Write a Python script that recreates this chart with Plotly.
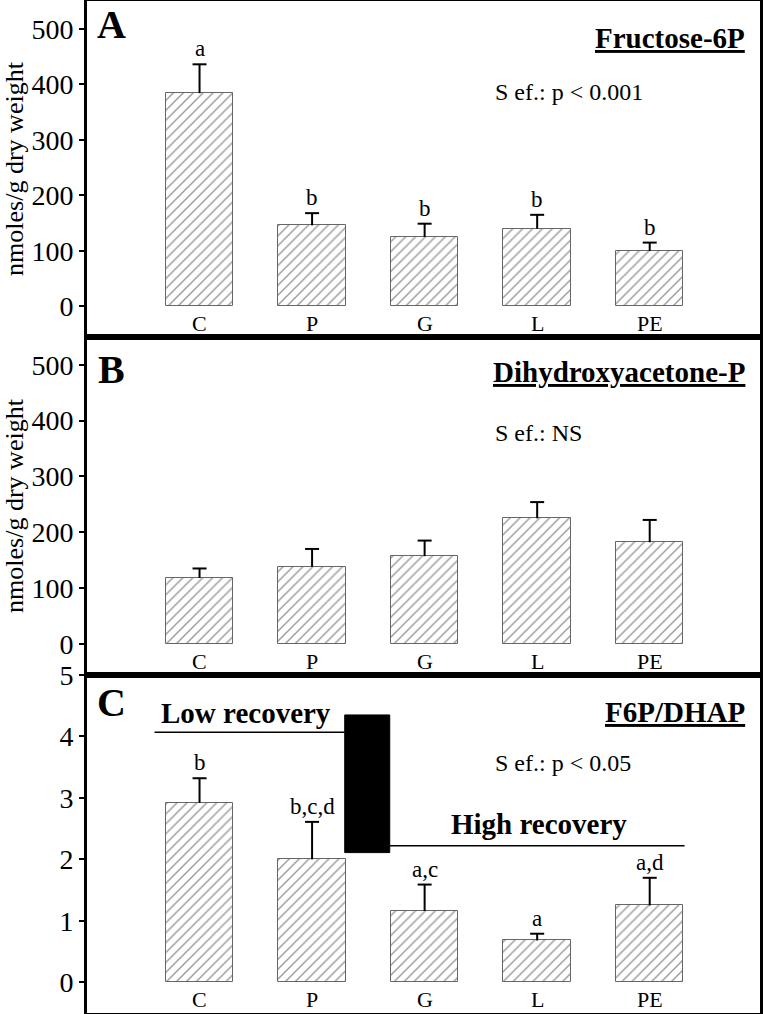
import plotly.graph_objects as go
from plotly.subplots import make_subplots

categories = ["C", "P", "G", "L", "PE"]

f6p_mean = [384, 146, 125, 140, 100]
f6p_err = [52, 22, 24, 25, 15]
f6p_letters = ["a", "b", "b", "b", "b"]

dhap_mean = [118, 138, 157, 225, 182]
dhap_err = [17, 32, 28, 29, 40]

ratio_mean = [2.92, 2.00, 1.16, 0.68, 1.25]
ratio_err = [0.40, 0.61, 0.43, 0.11, 0.45]
ratio_letters = ["b", "b,c,d", "a,c", "a", "a,d"]

panel_titles = ["Fructose-6P", "Dihydroxyacetone-P", "F6P/DHAP"]
panel_stats = ["S ef.: p < 0.001", "S ef.: NS", "S ef.: p < 0.05"]
panel_letters = ["A", "B", "C"]
y_ticks_ab = [0, 100, 200, 300, 400, 500]
y_ticks_c = [0, 1, 2, 3, 4, 5]

FONT = "Liberation Serif, Times New Roman, serif"
W, H = 763, 1014
ML, MR, MT, MB = 87, 3, 1, 1
PW, PH = W - ML - MR, H - MT - MB

def px(xp):
    return (xp - ML) / PW

def py(yp):
    return (H - MB - yp) / PH

fig = make_subplots(rows=3, cols=1, vertical_spacing=0)

panels = [
    (f6p_mean, f6p_err, f6p_letters),
    (dhap_mean, dhap_err, None),
    (ratio_mean, ratio_err, ratio_letters),
]

annotations = []
for i, (means, errs, letters) in enumerate(panels):
    r = i + 1
    sfx = "" if r == 1 else str(r)
    fig.add_trace(go.Bar(
        x=categories, y=means, width=0.6,
        marker=dict(color="white", line=dict(color="#666666", width=1),
                    pattern=dict(shape="/", fgcolor="#333333", bgcolor="white",
                                 size=7, solidity=0.2)),
        showlegend=False, hoverinfo="skip"), row=r, col=1)
    fig.add_trace(go.Scatter(
        x=categories, y=means, mode="markers",
        marker=dict(size=1, color="rgba(0,0,0,0)"),
        error_y=dict(type="data", symmetric=False, array=errs,
                     arrayminus=[0] * len(errs), thickness=2, width=0, color="black"),
        showlegend=False, hoverinfo="skip"), row=r, col=1)
    tops = [m + e for m, e in zip(means, errs)]
    fig.add_trace(go.Scatter(
        x=categories, y=tops, mode="markers",
        marker=dict(symbol="line-ew", size=10, line=dict(width=2, color="black")),
        showlegend=False, hoverinfo="skip"), row=r, col=1)
    if letters:
        for c, t, lab in zip(categories, tops, letters):
            annotations.append(dict(x=c, y=t, xref="x" + sfx, yref="y" + sfx,
                                    text=lab, showarrow=False, yanchor="bottom",
                                    yshift=1, font=dict(family=FONT, size=23, color="black")))
    for c in categories:
        annotations.append(dict(x=c, y=0, xref="x" + sfx, yref="y" + sfx,
                                text=c, showarrow=False, yanchor="top", yshift=-3,
                                font=dict(family=FONT, size=22, color="black")))

# panel domains (pixel boundaries 1, 337, 675, 1013)
bounds = [(1, 337), (337, 675), (675, 1013)]
yranges = [[-55, 550], [-56, 550], [-0.5, 5]]
for i, (t, b) in enumerate(bounds):
    r = i + 1
    fig.update_xaxes(type="category", range=[-1, 4.98], showticklabels=False, ticks="",
                     showline=True, mirror=True, linewidth=3, linecolor="black",
                     showgrid=False, zeroline=False, automargin=False, row=r, col=1)
    fig.update_yaxes(domain=[py(b), py(t)], range=yranges[i],
                     tickvals=y_ticks_c if r == 3 else y_ticks_ab,
                     ticks="outside", ticklen=5, tickwidth=2, tickcolor="black",
                     tickfont=dict(family=FONT, size=28, color="black"),
                     showline=True, mirror=True, linewidth=3, linecolor="black",
                     showgrid=False, zeroline=False, automargin=False, row=r, col=1)

for r in (1, 2):
    fig.update_yaxes(title=dict(text="nmoles/g dry weight", standoff=4,
                                font=dict(family=FONT, size=26, color="black")),
                     row=r, col=1)

# panel letters, titles, stats
letter_pos = [25, 369, 702]
title_pos = [38, 372, 712]
stat_pos = [92, 433, 763]
for i in range(3):
    annotations.append(dict(x=px(111), y=py(letter_pos[i]), xref="paper", yref="paper",
                            text="<b>" + panel_letters[i] + "</b>", showarrow=False,
                            xanchor="center", yanchor="middle",
                            font=dict(family=FONT, size=40, color="black")))
    annotations.append(dict(x=px(747), y=py(title_pos[i]), xref="paper", yref="paper",
                            text="<u><b>" + panel_titles[i] + "</b></u>", showarrow=False,
                            xanchor="right", yanchor="middle",
                            font=dict(family=FONT, size=29, color="black")))
    annotations.append(dict(x=px(493), y=py(stat_pos[i]), xref="paper", yref="paper",
                            text=panel_stats[i], showarrow=False,
                            xanchor="left", yanchor="middle",
                            font=dict(family=FONT, size=24, color="black")))

annotations.append(dict(x=0.41, y=4.38, xref="x3", yref="y3", text="<b>Low recovery</b>",
                        showarrow=False, xanchor="center", yanchor="middle",
                        font=dict(family=FONT, size=29, color="black")))
annotations.append(dict(x=3.02, y=2.58, xref="x3", yref="y3", text="<b>High recovery</b>",
                        showarrow=False, xanchor="center", yanchor="middle",
                        font=dict(family=FONT, size=29, color="black")))

shapes = [
    dict(type="rect", xref="x3", yref="y3", x0=1.29, x1=1.69, y0=2.11, y1=4.35,
         fillcolor="black", line=dict(color="black", width=1)),
    dict(type="line", xref="x3", yref="y3", x0=-0.40, x1=1.29, y0=4.07, y1=4.07,
         line=dict(color="black", width=1.5)),
    dict(type="line", xref="x3", yref="y3", x0=1.69, x1=4.31, y0=2.22, y1=2.22,
         line=dict(color="black", width=1.5)),
]

fig.update_layout(width=W, height=H, margin=dict(l=ML, r=MR, t=MT, b=MB, autoexpand=False),
                  plot_bgcolor="white", paper_bgcolor="white",
                  annotations=annotations, shapes=shapes, bargap=0,
                  font=dict(family=FONT, color="black"))

fig.write_html("out.html", config={"displayModeBar": False},
               post_script="document.body.style.margin='0';document.body.style.padding='0';"
                           "document.body.style.overflow='hidden';")
